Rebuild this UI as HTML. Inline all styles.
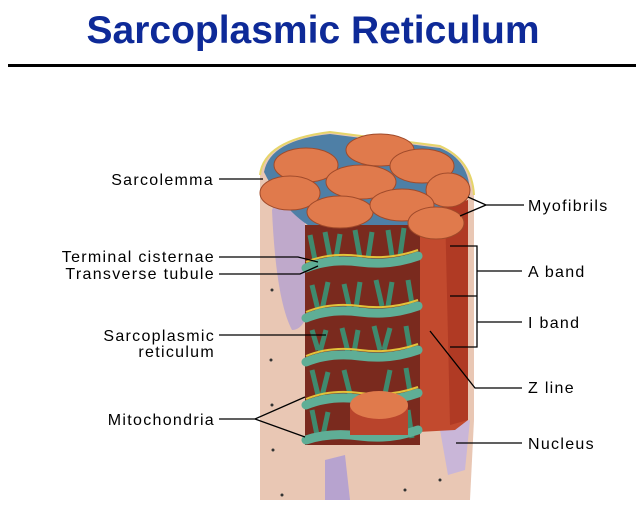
<!DOCTYPE html>
<html><head><meta charset="utf-8"><style>
body{margin:0;background:#fff;width:644px;height:511px;overflow:hidden}
svg{display:block}
text{font-family:"Liberation Sans",sans-serif}
</style></head><body>
<svg width="644" height="511" viewBox="0 0 644 511">
<text x="313" y="43" text-anchor="middle" font-size="39" font-weight="bold" fill="#0e2a98">Sarcoplasmic Reticulum</text>
<rect x="8" y="64" width="628" height="3" fill="#000"/>

<!-- outer sheath -->
<path d="M260,175 Q264,140 330,132 L440,146 Q472,160 474,195 L474,420 L470,500 L260,500 Z" fill="#e9c7b4"/>
<path d="M260,175 Q264,140 330,132 L440,146 Q472,160 474,195" fill="none" stroke="#e6d56a" stroke-width="2"/>
<path d="M272,210 Q278,195 305,200 L305,320 Q300,330 292,330 Q276,300 272,210Z" fill="#b7a3cf" opacity="0.85"/>
<path d="M325,460 L345,455 L350,500 L325,500Z" fill="#b7a3cf"/>
<path d="M440,430 L470,420 L465,470 L448,475Z" fill="#c9b6d8"/>
<!-- top face -->
<path d="M264,172 Q270,140 330,134 L440,148 Q470,160 470,195 L425,225 L320,232 Q285,215 264,172Z" fill="#4e7fa6"/>
<!-- red myofibril column -->
<path d="M418,215 L468,200 L468,420 L455,430 L418,432Z" fill="#c24a2e"/>
<path d="M445,208 L468,200 L468,420 L450,425Z" fill="#b03a24"/>
<!-- network region -->
<rect x="305" y="225" width="115" height="220" fill="#7a2a1e"/>
<g stroke="#3f8a6e" stroke-width="5" fill="none">
<path d="M310,235 L315,260 M325,232 L330,258 M340,234 L336,258 M355,230 L360,258 M372,232 L368,258 M388,230 L392,256 M404,228 L400,256"/>
<path d="M312,285 L318,310 M328,282 L322,310 M344,284 L350,310 M360,282 L356,308 M376,280 L382,306 M392,282 L388,306 M408,280 L412,304"/>
<path d="M312,330 L318,350 M326,330 L320,352 M342,328 L348,352 M358,330 L354,352 M374,326 L380,350 M390,328 L384,350 M406,326 L410,350"/>
<path d="M312,370 L318,395 M328,372 L322,396 M344,370 L350,394 M390,370 L385,394 M406,368 L410,392"/>
<path d="M312,410 L318,440 M328,412 L322,440 M392,410 L388,438 M408,410 L412,438"/>
</g>
<g stroke="#5fae96" stroke-width="9" fill="none" stroke-linecap="round">
<path d="M306,268 Q330,258 360,262 Q390,266 418,256"/>
<path d="M306,318 Q330,308 360,312 Q390,316 418,306"/>
<path d="M306,362 Q330,352 360,356 Q390,360 418,350"/>
<path d="M306,405 Q330,395 360,399 Q390,403 418,393"/>
<path d="M306,440 Q330,432 360,436 Q390,440 418,430"/>
</g>
<g stroke="#e3c23a" stroke-width="2" fill="none">
<path d="M306,262 Q330,252 360,256 Q390,260 418,250"/>
<path d="M306,312 Q330,302 360,306 Q390,310 418,300"/>
<path d="M306,356 Q330,346 360,350 Q390,354 418,344"/>
<path d="M306,399 Q330,389 360,393 Q390,397 418,387"/>
</g>
<!-- lower disc -->
<rect x="350" y="405" width="58" height="30" fill="#b9442c"/>
<ellipse cx="379" cy="405" rx="29" ry="14" fill="#e07a4c"/>
<!-- top discs -->
<g fill="#e07a4c" stroke="#a04a2a" stroke-width="1">
<ellipse cx="380" cy="150" rx="34" ry="16"/>
<ellipse cx="306" cy="165" rx="32" ry="17"/>
<ellipse cx="422" cy="166" rx="32" ry="17"/>
<ellipse cx="361" cy="182" rx="35" ry="17"/>
<ellipse cx="290" cy="193" rx="30" ry="17"/>
<ellipse cx="448" cy="190" rx="22" ry="17"/>
<ellipse cx="340" cy="212" rx="33" ry="16"/>
<ellipse cx="402" cy="205" rx="32" ry="16"/>
<ellipse cx="436" cy="223" rx="28" ry="16"/>
</g>
<g fill="#333">
<circle cx="272" cy="290" r="1.5"/><circle cx="271" cy="360" r="1.5"/><circle cx="272" cy="405" r="1.5"/><circle cx="273" cy="450" r="1.5"/><circle cx="282" cy="495" r="1.5"/><circle cx="405" cy="490" r="1.5"/><circle cx="440" cy="480" r="1.5"/>
</g>

<!-- labels -->
<g font-size="16" letter-spacing="1.3" fill="#000" text-anchor="end">
<text x="214" y="185">Sarcolemma</text>
<text x="215" y="262">Terminal cisternae</text>
<text x="215" y="279">Transverse tubule</text>
<text x="215" y="341">Sarcoplasmic</text>
<text x="215" y="357">reticulum</text>
<text x="215" y="425">Mitochondria</text>
</g>
<g font-size="16" letter-spacing="1.3" fill="#000">
<text x="528" y="211">Myofibrils</text>
<text x="528" y="277">A band</text>
<text x="528" y="328">I band</text>
<text x="528" y="393">Z line</text>
<text x="528" y="449">Nucleus</text>
</g>
<g stroke="#000" stroke-width="1.3" fill="none">
<path d="M219,179 H263"/>
<path d="M219,257 H298 L318,262"/>
<path d="M219,274 H300 L318,266"/>
<path d="M219,335 H326"/>
<path d="M219,419 H255 L305,397 M255,419 L305,437"/>
<path d="M524,205 H486 L468,197 M486,205 L460,216"/>
<path d="M450,246 H477 V347 H450 M450,296 H477 M477,271 H522 M477,322 H522"/>
<path d="M430,331 L475,388 H522"/>
<path d="M456,443 H522"/>
</g>
</svg>
</body></html>
